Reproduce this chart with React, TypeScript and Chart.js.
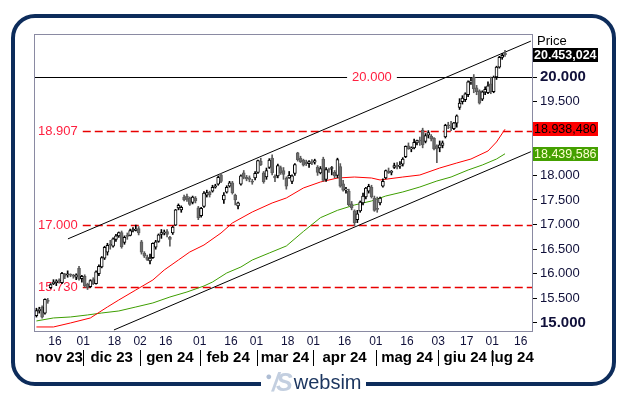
import React, { useEffect, useRef } from 'react';
import { Chart, registerables } from 'chart.js';

Chart.register(...registerables);

// ---------- data ----------
const DATES = [
  '2023-11-07','2023-11-08','2023-11-09','2023-11-10','2023-11-13','2023-11-14','2023-11-15','2023-11-16','2023-11-17','2023-11-20','2023-11-21','2023-11-22','2023-11-24','2023-11-27','2023-11-28','2023-11-29','2023-11-30',
  '2023-12-01','2023-12-04','2023-12-05','2023-12-06','2023-12-07','2023-12-08','2023-12-11','2023-12-12','2023-12-13','2023-12-14','2023-12-15','2023-12-18','2023-12-19','2023-12-20','2023-12-21','2023-12-22','2023-12-26','2023-12-27','2023-12-28','2023-12-29',
  '2024-01-02','2024-01-03','2024-01-04','2024-01-05','2024-01-08','2024-01-09','2024-01-10','2024-01-11','2024-01-12','2024-01-16','2024-01-17','2024-01-18','2024-01-19','2024-01-22','2024-01-23','2024-01-24','2024-01-25','2024-01-26','2024-01-29','2024-01-30','2024-01-31',
  '2024-02-01','2024-02-02','2024-02-05','2024-02-06','2024-02-07','2024-02-08','2024-02-09','2024-02-12','2024-02-13','2024-02-14','2024-02-15','2024-02-16','2024-02-20','2024-02-21','2024-02-22','2024-02-23','2024-02-26','2024-02-27','2024-02-28','2024-02-29',
  '2024-03-01','2024-03-04','2024-03-05','2024-03-06','2024-03-07','2024-03-08','2024-03-11','2024-03-12','2024-03-13','2024-03-14','2024-03-15','2024-03-18','2024-03-19','2024-03-20','2024-03-21','2024-03-22','2024-03-25','2024-03-26','2024-03-27','2024-03-28',
  '2024-04-01','2024-04-02','2024-04-03','2024-04-04','2024-04-05','2024-04-08','2024-04-09','2024-04-10','2024-04-11','2024-04-12','2024-04-15','2024-04-16','2024-04-17','2024-04-18','2024-04-19','2024-04-22','2024-04-23','2024-04-24','2024-04-25','2024-04-26','2024-04-29','2024-04-30',
  '2024-05-01','2024-05-02','2024-05-03','2024-05-06','2024-05-07','2024-05-08','2024-05-09','2024-05-10','2024-05-13','2024-05-14','2024-05-15','2024-05-16','2024-05-17','2024-05-20','2024-05-21','2024-05-22','2024-05-23','2024-05-24','2024-05-28','2024-05-29','2024-05-30','2024-05-31',
  '2024-06-03','2024-06-04','2024-06-05','2024-06-06','2024-06-07','2024-06-10','2024-06-11','2024-06-12','2024-06-13','2024-06-14','2024-06-17','2024-06-18','2024-06-20','2024-06-21','2024-06-24','2024-06-25','2024-06-26','2024-06-27','2024-06-28',
  '2024-07-01','2024-07-02','2024-07-03','2024-07-05','2024-07-08','2024-07-09','2024-07-10','2024-07-11','2024-07-12','2024-07-15','2024-07-16','2024-07-17','2024-07-18','2024-07-19',
];

const OPEN = [
  15150,15250,15320,15200,15460,15720,15800,15820,15860,15820,15990,15980,15980,15960,15930,16110,15900,
  15950,15790,15740,15880,15800,16000,16140,16320,16440,16600,16560,16700,16770,16840,16640,16780,16780,16880,16880,16920,
  16650,16420,16340,16260,16330,16540,16660,16800,16830,16860,16740,16830,16990,17340,17300,17560,17580,17540,17450,17540,17340,
  17180,17370,17600,17660,17680,17760,17820,18010,17500,17660,17780,17850,17600,17380,17820,18050,17960,17950,17880,17950,
  18060,18290,18050,17970,18160,18350,17980,17990,18160,18100,17940,17950,17880,18040,18460,18350,18310,18270,18240,18270,
  18270,18170,18050,18330,17920,18120,18140,18060,18000,18180,17830,17700,17680,17420,17280,17100,17280,17440,17560,17680,17760,17540,
  17320,17440,17780,17950,18090,18060,18160,18200,18190,18230,18380,18600,18540,18560,18660,18720,18920,18690,18820,18800,18760,18600,
  18560,18610,18780,19030,18980,18950,19060,19380,19500,19540,19640,19900,20000,19780,19720,19550,19690,19680,19860,
  19700,20000,20200,20400,20490,
];
const HIGH = [
  15300,15320,15350,15490,15500,15800,15880,15880,15900,16030,16010,16060,16000,15990,16000,16150,15970,
  15980,15810,15880,15920,16060,16180,16350,16560,16620,16680,16730,16800,16850,16870,16770,16830,16910,16940,16990,16960,
  16680,16450,16380,16400,16630,16680,16810,16900,16890,16900,16760,16970,17310,17420,17380,17600,17620,17560,17580,17570,17370,
  17350,17670,17700,17680,17800,17820,17990,18040,17650,17790,17880,17880,17620,17460,18010,18100,18000,17990,17920,18080,
  18310,18350,18080,18150,18340,18420,18010,18230,18190,18160,17970,18080,18010,18240,18470,18390,18330,18310,18300,18320,
  18330,18200,18180,18370,18160,18150,18180,18100,18350,18240,17900,17760,17720,17470,17300,17290,17480,17640,17760,17820,17800,17580,
  17560,17560,17930,18110,18150,18100,18250,18260,18280,18360,18600,18660,18580,18740,18720,18780,18960,18850,18910,18830,18770,18620,
  18700,18700,19040,19080,19100,19080,19230,19560,19620,19680,19920,19980,20050,19830,19740,19720,19800,19900,20000,
  20020,20220,20420,20480,20540,
];
const LOW = [
  15120,15200,15100,15180,15400,15700,15780,15760,15810,15800,15900,15930,15940,15910,15880,15870,15830,
  15730,15680,15720,15780,15790,15960,16120,16290,16380,16500,16540,16660,16740,16520,16600,16700,16770,16850,16870,16790,
  16400,16330,16270,16200,16310,16500,16640,16720,16790,16750,16560,16800,16980,17300,17250,17480,17470,17390,17420,17440,17100,
  17150,17350,17560,17560,17660,17740,17800,17850,17430,17640,17760,17620,17400,17320,17800,17930,17890,17870,17820,17910,
  18040,18200,17840,17920,18140,18010,17870,17950,18020,17920,17720,17940,17830,18000,18290,18260,18190,18200,18160,18220,
  18230,18000,18030,17880,17880,18060,18010,17950,17950,17760,17680,17640,17380,17300,16980,17040,17250,17400,17520,17640,17540,17270,
  17250,17400,17760,17930,18040,18010,18140,18130,18140,18190,18360,18530,18480,18540,18620,18610,18560,18660,18760,18700,18520,18260,
  18480,18560,18760,18950,18910,18930,18980,19340,19450,19500,19600,19850,19680,19640,19450,19520,19640,19660,19660,
  19680,19950,20180,20360,20420,
];
const CLOSE = [
  15250,15280,15120,15480,15440,15780,15830,15850,15850,16010,15950,15990,15970,15950,15980,15890,15950,
  15760,15720,15860,15800,16040,16150,16330,16540,16580,16580,16710,16770,16840,16550,16740,16760,16880,16900,16910,16830,
  16440,16360,16290,16320,16620,16650,16790,16840,16850,16800,16700,16950,17300,17390,17350,17500,17510,17410,17560,17480,17140,
  17330,17640,17650,17610,17760,17790,17960,17880,17600,17760,17850,17650,17500,17440,17990,17960,17930,17920,17860,18040,
  18300,18220,17870,18100,18310,18050,17950,18200,18050,18020,17780,18000,17990,18220,18320,18280,18210,18240,18280,18250,
  18300,18060,18140,17900,18120,18110,18160,17990,18320,17780,17700,17710,17400,17340,17040,17220,17460,17580,17740,17780,17560,17290,
  17310,17540,17880,18100,18050,18080,18200,18170,18210,18330,18590,18540,18550,18670,18710,18700,18620,18810,18870,18740,18540,18540,
  18620,18660,19020,19010,18970,19070,19210,19470,19570,19660,19900,19910,19760,19700,19470,19700,19750,19820,19700,
  20000,20200,20400,20440,20453,
];

// moving averages (trading-day index, value)
const MA_RED_IDX = [0,6,12,19,25,29,35,41,45,50,54,59,65,69,76,83,88,94,100,106,112,118,121,129,135,142,148,153,159,162,165];
const MA_RED_VAL = [14919,14919,15000,15102,15325,15467,15671,15874,16077,16280,16443,16585,16829,17033,17256,17439,17541,17744,17866,17947,17967,17947,17907,17967,18008,18150,18252,18333,18496,18679,18938.48];
const MA_GREEN_IDX = [0,6,12,18,23,29,35,41,47,53,59,62,67,72,76,82,88,94,100,106,112,118,123,129,135,141,146,152,157,162,165];
const MA_GREEN_VAL = [15041,15102,15122,15163,15203,15244,15325,15407,15528,15630,15752,15833,16016,16138,16280,16423,16565,16860,17140,17290,17398,17480,17581,17663,17764,17886,17967,18110,18211,18333,18439.586];

// trend channel anchor points (trading-day index, value)
const CHANNEL_UP_X = [11.1, 174.1];
const CHANNEL_UP_Y = [16710, 20730];
const CHANNEL_LOW_X = [27.3, 174.1];
const CHANNEL_LOW_Y = [14858, 18482];

// horizontal levels
const LEVEL_VALUES = [20000, 18907, 17000, 15730];
const LEVEL_SOLID = [true, false, false, false];

// price boxes on the right axis
const BOX_VALUES = [20453.024, 18938.48, 18439.586];

// axes (18.500 and 19.000 sit under the price boxes in the reference)
const Y_TICKS = [15000, 15500, 16000, 16500, 17000, 17500, 18000, 19500, 20000];
const DAY_TICK_DATES = ['2023-11-16','2023-12-01','2023-12-18','2024-01-02','2024-01-16','2024-02-01','2024-02-16','2024-03-01','2024-03-18','2024-04-01','2024-04-16','2024-05-01','2024-05-16','2024-06-03','2024-06-17','2024-07-01','2024-07-16'];
const MONTH_KEYS = ['2023-11','2023-12','2024-01','2024-02','2024-03','2024-04','2024-05','2024-06','2024-07'];
const MONTH_LABELS = ['nov 23','dic 23','gen 24','feb 24','mar 24','apr 24','mag 24','giu 24','lug 24'];

// ---------- helpers / styles ----------
const FONT = "'Liberation Sans', Arial, sans-serif";
const NARROW = "'Liberation Sans Narrow', 'Arial Narrow', 'Liberation Sans', Arial, sans-serif";
const NAVY = '#0d2c5b';

function fmtThousands(v: number): string {
  const s = Math.round(v).toString();
  return s.slice(0, -3) + '.' + s.slice(-3);
}
function fmtPrice(v: number): string {
  const [i, d] = v.toFixed(3).split('.');
  return i.slice(0, -3) + '.' + i.slice(-3) + ',' + d;
}

const BOX_BG = ['#000000', '#ff0000', '#44a000'];
const BOX_FG = ['#ffffff', '#000000', '#ffffd0'];

const overlayPlugin = {
  id: 'overlay',
  beforeDatasetsDraw(chart: any) {
    const { ctx, chartArea: a, scales } = chart;
    const y = scales.y;
    ctx.save();
    ctx.beginPath();
    ctx.rect(a.left, a.top, a.right - a.left, a.bottom - a.top);
    ctx.clip();
    ctx.font = `13px ${NARROW}`;
    ctx.textBaseline = 'middle';
    LEVEL_VALUES.forEach((v, k) => {
      const py = Math.round(y.getPixelForValue(v)) + 0.5;
      const text = fmtThousands(v);
      const w = ctx.measureText(text).width;
      ctx.fillStyle = '#ff2040';
      if (LEVEL_SOLID[k]) {
        const cx = a.left + (a.right - a.left) * 0.678;
        ctx.strokeStyle = '#000';
        ctx.lineWidth = 1;
        ctx.setLineDash([]);
        ctx.beginPath();
        ctx.moveTo(a.left, py);
        ctx.lineTo(cx - w / 2 - 5, py);
        ctx.moveTo(cx + w / 2 + 5, py);
        ctx.lineTo(a.right, py);
        ctx.stroke();
        ctx.textAlign = 'center';
        ctx.fillText(text, cx, py);
      } else {
        const lx = a.left + 3;
        ctx.strokeStyle = '#e80000';
        ctx.lineWidth = 1.5;
        ctx.setLineDash([8, 4]);
        ctx.beginPath();
        ctx.moveTo(lx + w + 5, py);
        ctx.lineTo(a.right, py);
        ctx.stroke();
        ctx.textAlign = 'left';
        ctx.fillText(text, lx, py);
      }
    });
    ctx.restore();
  },
  afterDraw(chart: any) {
    const { ctx, chartArea: a, scales } = chart;
    const x = scales.x;
    const y = scales.y;
    ctx.save();
    // plot frame
    ctx.strokeStyle = '#8a8aa2';
    ctx.lineWidth = 1;
    ctx.setLineDash([]);
    ctx.strokeRect(a.left - 0.5, a.top - 0.5, a.right - a.left + 1, a.bottom - a.top + 1);

    // price boxes
    BOX_VALUES.forEach((v, k) => {
      const py = y.getPixelForValue(v);
      const top = Math.round(py - 7);
      ctx.fillStyle = BOX_BG[k];
      ctx.fillRect(a.right + 1, top, 65, 14);
      ctx.fillStyle = BOX_FG[k];
      ctx.font = `${k === 0 ? 'bold ' : ''}12.5px ${FONT}`;
      ctx.textAlign = 'left';
      ctx.textBaseline = 'middle';
      ctx.fillText(fmtPrice(v), a.right + 2, top + 7.5);
    });

    // "Price" caption
    ctx.fillStyle = '#000';
    ctx.font = `13px ${NARROW}`;
    ctx.textAlign = 'left';
    ctx.textBaseline = 'middle';
    ctx.fillText('Price', a.right + 5, a.top + 6);

    // month row
    const starts = MONTH_KEYS.map((k) => DATES.findIndex((d) => d.startsWith(k)));
    const bounds = starts.map((s, k) => (k === 0 ? a.left : x.getPixelForValue(s - 0.5)));
    bounds.push(a.right);
    ctx.font = `bold 15px ${NARROW}`;
    ctx.fillStyle = '#000';
    ctx.textAlign = 'center';
    ctx.textBaseline = 'middle';
    MONTH_LABELS.forEach((lab, k) => {
      ctx.fillText(lab, (bounds[k] + bounds[k + 1]) / 2, a.bottom + 27);
    });
    ctx.strokeStyle = '#000';
    ctx.lineWidth = 1;
    for (let k = 1; k < MONTH_LABELS.length; k++) {
      const px = Math.round(bounds[k]) + 0.5;
      ctx.beginPath();
      ctx.moveTo(px, a.bottom + 19);
      ctx.lineTo(px, a.bottom + 35);
      ctx.stroke();
    }
    ctx.restore();
  },
};

export default function App() {
  const ref = useRef<HTMLCanvasElement | null>(null);

  useEffect(() => {
    if (!ref.current) return;
    const n = DATES.length;
    const up = CLOSE.map((c, i) => c >= OPEN[i]);
    const bodies = CLOSE.map((c, i) => ({ x: i, y: [Math.min(OPEN[i], c), Math.max(OPEN[i], c)] }));
    const wicks = CLOSE.map((_, i) => ({ x: i, y: [LOW[i], HIGH[i]] }));
    const dayTickIdx = DAY_TICK_DATES.map((d) => DATES.indexOf(d));
    const dayTickLabels = DAY_TICK_DATES.map((d) => d.slice(8));

    const chart = new Chart(ref.current, {
      type: 'bar',
      data: {
        datasets: [
          {
            type: 'bar',
            label: 'body',
            data: bodies as any,
            backgroundColor: up.map((u) => (u ? '#ffffff' : '#6e6e6e')),
            borderColor: up.map((u) => (u ? '#000000' : '#5a5a5a')),
            borderWidth: 1,
            borderSkipped: false,
            barThickness: 3,
            minBarLength: 1,
            grouped: false,
            order: 0,
          } as any,
          {
            type: 'bar',
            label: 'wick',
            data: wicks as any,
            backgroundColor: up.map((u) => (u ? '#000000' : '#5a5a5a')),
            borderWidth: 0,
            barThickness: 1,
            grouped: false,
            order: 1,
          } as any,
          {
            type: 'line',
            label: 'MA fast',
            data: MA_RED_IDX.map((xv, k) => ({ x: xv, y: MA_RED_VAL[k] })),
            borderColor: '#ff0000',
            borderWidth: 1,
            pointRadius: 0,
            tension: 0,
            order: 2,
          } as any,
          {
            type: 'line',
            label: 'MA slow',
            data: MA_GREEN_IDX.map((xv, k) => ({ x: xv, y: MA_GREEN_VAL[k] })),
            borderColor: '#3e9e00',
            borderWidth: 1,
            pointRadius: 0,
            tension: 0,
            order: 3,
          } as any,
          {
            type: 'line',
            label: 'channel up',
            data: CHANNEL_UP_X.map((xv, k) => ({ x: xv, y: CHANNEL_UP_Y[k] })),
            borderColor: '#000000',
            borderWidth: 1,
            pointRadius: 0,
            order: 4,
          } as any,
          {
            type: 'line',
            label: 'channel low',
            data: CHANNEL_LOW_X.map((xv, k) => ({ x: xv, y: CHANNEL_LOW_Y[k] })),
            borderColor: '#000000',
            borderWidth: 1,
            pointRadius: 0,
            order: 5,
          } as any,
        ],
      },
      options: {
        responsive: false,
        animation: false,
        devicePixelRatio: 1,
        events: [],
        layout: { padding: { left: 35, top: 35, right: 0, bottom: 0 } },
        plugins: { legend: { display: false }, tooltip: { enabled: false } },
        scales: {
          x: {
            type: 'linear',
            min: -0.5,
            max: n - 0.5,
            offset: false,
            grid: { display: false, drawTicks: false },
            border: { display: false },
            afterBuildTicks: (s: any) => {
              s.ticks = dayTickIdx.map((i) => ({ value: i - 0.5 }));
            },
            afterFit: (s: any) => {
              s.height = 66;
            },
            ticks: {
              autoSkip: false,
              maxRotation: 0,
              padding: 3,
              color: '#10103a',
              font: { family: NARROW, size: 12 },
              callback: (_v: any, k: number) => dayTickLabels[k],
            },
          } as any,
          y: {
            type: 'linear',
            position: 'right',
            min: 14837,
            max: 20854,
            grid: { drawOnChartArea: false, drawTicks: true, tickLength: 5, tickColor: '#000' },
            border: { display: false },
            afterBuildTicks: (s: any) => {
              s.ticks = Y_TICKS.map((v) => ({ value: v }));
            },
            afterFit: (s: any) => {
              s.width = 95;
            },
            ticks: {
              autoSkip: false,
              padding: 3,
              color: '#10103a',
              font: (c: any) =>
                c.tick && c.tick.value % 5000 === 0
                  ? { family: NARROW, size: 15, weight: 'bold' }
                  : { family: NARROW, size: 13 },
              callback: (v: any) => fmtThousands(Number(v)),
            },
          } as any,
        },
      },
      plugins: [overlayPlugin],
    });
    return () => chart.destroy();
  }, []);

  return (
    <div style={{ position: 'fixed', left: 0, top: 0, width: 627, height: 397, background: '#fff', overflow: 'hidden' }}>
      <div
        style={{
          position: 'absolute',
          left: 11,
          top: 14,
          width: 605,
          height: 372,
          boxSizing: 'border-box',
          border: `4px solid ${NAVY}`,
          borderRadius: 24,
        }}
      />
      <canvas ref={ref} width={627} height={397} style={{ position: 'absolute', left: 0, top: 0, width: 627, height: 397 }} />
      <div
        style={{
          position: 'absolute',
          left: 261,
          top: 369,
          width: 105,
          height: 27,
          background: '#fff',
          display: 'flex',
          alignItems: 'center',
          justifyContent: 'center',
        }}
      >
        <span style={{ color: '#aebdd4', fontFamily: FONT, fontSize: 11, alignSelf: 'flex-start', marginTop: 1 }}>●</span>
        <span style={{ color: '#c3cfe0', fontFamily: FONT, fontSize: 25, fontWeight: 'bold', fontStyle: 'italic', letterSpacing: -3, marginRight: 4, lineHeight: '27px' }}>/S</span>
        <span style={{ color: '#1b355f', fontFamily: FONT, fontSize: 20, lineHeight: '27px' }}>websim</span>
      </div>
    </div>
  );
}
